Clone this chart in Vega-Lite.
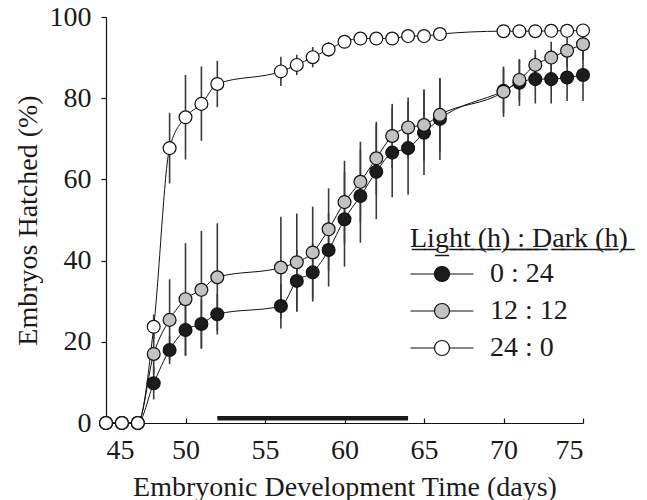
{
  "$schema": "https://vega.github.io/schema/vega-lite/v6.json",
  "width": 477,
  "height": 406,
  "autosize": {"type": "none"},
  "padding": {"left": 106, "top": 17, "right": 64, "bottom": 77},
  "background": "white",
  "config": {
    "view": {"stroke": null},
    "font": "Liberation Serif",
    "axis": {
      "labelFont": "Liberation Serif",
      "titleFont": "Liberation Serif",
      "labelFontSize": 28,
      "titleFontSize": 28,
      "titleFontWeight": "normal",
      "labelColor": "#1a1a1a",
      "titleColor": "#1a1a1a",
      "domainColor": "#111",
      "tickColor": "#111",
      "domainWidth": 1.2,
      "tickWidth": 1.2,
      "grid": false
    }
  },
  "data": {
    "values": [
      {"d": 45, "g": "0 : 24", "m": 0, "lo": 0, "hi": 0},
      {"d": 46, "g": "0 : 24", "m": 0, "lo": 0, "hi": 0},
      {"d": 47, "g": "0 : 24", "m": 0, "lo": 0, "hi": 0},
      {"d": 48, "g": "0 : 24", "m": 9.8, "lo": 5.8, "hi": 13.8},
      {"d": 49, "g": "0 : 24", "m": 18.0, "lo": 14.5, "hi": 21.5},
      {"d": 50, "g": "0 : 24", "m": 22.9, "lo": 16.5, "hi": 29.3},
      {"d": 51, "g": "0 : 24", "m": 24.4, "lo": 18.4, "hi": 30.4},
      {"d": 52, "g": "0 : 24", "m": 26.8, "lo": 21.8, "hi": 31.8},
      {"d": 56, "g": "0 : 24", "m": 28.8, "lo": 23.3, "hi": 34.3},
      {"d": 57, "g": "0 : 24", "m": 35.0, "lo": 27.4, "hi": 42.6},
      {"d": 58, "g": "0 : 24", "m": 37.1, "lo": 29.9, "hi": 44.3},
      {"d": 59, "g": "0 : 24", "m": 42.6, "lo": 33.6, "hi": 51.6},
      {"d": 60, "g": "0 : 24", "m": 50.2, "lo": 38.5, "hi": 61.9},
      {"d": 61, "g": "0 : 24", "m": 55.9, "lo": 44.4, "hi": 67.4},
      {"d": 62, "g": "0 : 24", "m": 61.9, "lo": 50.2, "hi": 73.6},
      {"d": 63, "g": "0 : 24", "m": 66.6, "lo": 55.6, "hi": 77.6},
      {"d": 64, "g": "0 : 24", "m": 67.7, "lo": 56.2, "hi": 79.2},
      {"d": 65, "g": "0 : 24", "m": 71.5, "lo": 61.1, "hi": 81.9},
      {"d": 66, "g": "0 : 24", "m": 74.9, "lo": 64.8, "hi": 85.0},
      {"d": 70, "g": "0 : 24", "m": 81.8, "lo": 76.3, "hi": 87.3},
      {"d": 71, "g": "0 : 24", "m": 83.8, "lo": 78.1, "hi": 89.5},
      {"d": 72, "g": "0 : 24", "m": 84.7, "lo": 78.7, "hi": 90.7},
      {"d": 73, "g": "0 : 24", "m": 84.7, "lo": 78.7, "hi": 90.7},
      {"d": 74, "g": "0 : 24", "m": 85.1, "lo": 79.3, "hi": 90.9},
      {"d": 75, "g": "0 : 24", "m": 85.7, "lo": 79.3, "hi": 92.1},
      {"d": 45, "g": "12 : 12", "m": 0, "lo": 0, "hi": 0},
      {"d": 46, "g": "12 : 12", "m": 0, "lo": 0, "hi": 0},
      {"d": 47, "g": "12 : 12", "m": 0, "lo": 0, "hi": 0},
      {"d": 48, "g": "12 : 12", "m": 17.0, "lo": 12.0, "hi": 22.0},
      {"d": 49, "g": "12 : 12", "m": 25.4, "lo": 15.4, "hi": 35.4},
      {"d": 50, "g": "12 : 12", "m": 30.5, "lo": 16.7, "hi": 44.3},
      {"d": 51, "g": "12 : 12", "m": 32.8, "lo": 18.3, "hi": 47.3},
      {"d": 52, "g": "12 : 12", "m": 35.9, "lo": 22.6, "hi": 49.2},
      {"d": 56, "g": "12 : 12", "m": 38.3, "lo": 25.8, "hi": 50.8},
      {"d": 57, "g": "12 : 12", "m": 39.6, "lo": 27.6, "hi": 51.6},
      {"d": 58, "g": "12 : 12", "m": 42.0, "lo": 30.7, "hi": 53.3},
      {"d": 59, "g": "12 : 12", "m": 47.7, "lo": 37.6, "hi": 57.8},
      {"d": 60, "g": "12 : 12", "m": 54.4, "lo": 44.2, "hi": 64.6},
      {"d": 61, "g": "12 : 12", "m": 59.4, "lo": 49.5, "hi": 69.3},
      {"d": 62, "g": "12 : 12", "m": 65.2, "lo": 56.2, "hi": 74.2},
      {"d": 63, "g": "12 : 12", "m": 70.7, "lo": 62.8, "hi": 78.6},
      {"d": 64, "g": "12 : 12", "m": 72.8, "lo": 65.4, "hi": 80.2},
      {"d": 65, "g": "12 : 12", "m": 73.4, "lo": 64.6, "hi": 82.2},
      {"d": 66, "g": "12 : 12", "m": 75.9, "lo": 66.9, "hi": 84.9},
      {"d": 70, "g": "12 : 12", "m": 81.6, "lo": 75.4, "hi": 87.8},
      {"d": 71, "g": "12 : 12", "m": 84.5, "lo": 79.4, "hi": 89.6},
      {"d": 72, "g": "12 : 12", "m": 88.2, "lo": 84.5, "hi": 91.9},
      {"d": 73, "g": "12 : 12", "m": 90.0, "lo": 86.1, "hi": 93.9},
      {"d": 74, "g": "12 : 12", "m": 91.7, "lo": 87.8, "hi": 95.6},
      {"d": 75, "g": "12 : 12", "m": 93.3, "lo": 89.4, "hi": 97.2},
      {"d": 45, "g": "24 : 0", "m": 0, "lo": 0, "hi": 0},
      {"d": 46, "g": "24 : 0", "m": 0, "lo": 0, "hi": 0},
      {"d": 47, "g": "24 : 0", "m": 0, "lo": 0, "hi": 0},
      {"d": 48, "g": "24 : 0", "m": 23.7, "lo": 20.7, "hi": 26.7},
      {"d": 49, "g": "24 : 0", "m": 67.7, "lo": 59.0, "hi": 76.4},
      {"d": 50, "g": "24 : 0", "m": 75.3, "lo": 64.9, "hi": 85.7},
      {"d": 51, "g": "24 : 0", "m": 78.6, "lo": 69.5, "hi": 87.8},
      {"d": 52, "g": "24 : 0", "m": 83.5, "lo": 77.8, "hi": 89.2},
      {"d": 56, "g": "24 : 0", "m": 86.6, "lo": 83.0, "hi": 90.2},
      {"d": 57, "g": "24 : 0", "m": 88.2, "lo": 85.7, "hi": 90.7},
      {"d": 58, "g": "24 : 0", "m": 90.1, "lo": 87.6, "hi": 92.6},
      {"d": 59, "g": "24 : 0", "m": 92.0, "lo": 90.2, "hi": 93.8},
      {"d": 60, "g": "24 : 0", "m": 93.9, "lo": 92.9, "hi": 94.9},
      {"d": 61, "g": "24 : 0", "m": 94.7, "lo": 94.2, "hi": 95.2},
      {"d": 62, "g": "24 : 0", "m": 94.7, "lo": 94.2, "hi": 95.2},
      {"d": 63, "g": "24 : 0", "m": 94.7, "lo": 94.2, "hi": 95.2},
      {"d": 64, "g": "24 : 0", "m": 95.3, "lo": 94.8, "hi": 95.8},
      {"d": 65, "g": "24 : 0", "m": 95.3, "lo": 94.8, "hi": 95.8},
      {"d": 66, "g": "24 : 0", "m": 95.8, "lo": 95.3, "hi": 96.3},
      {"d": 70, "g": "24 : 0", "m": 96.5, "lo": 96.0, "hi": 97.0},
      {"d": 71, "g": "24 : 0", "m": 96.5, "lo": 96.0, "hi": 97.0},
      {"d": 72, "g": "24 : 0", "m": 96.5, "lo": 96.0, "hi": 97.0},
      {"d": 73, "g": "24 : 0", "m": 96.6, "lo": 96.1, "hi": 97.1},
      {"d": 74, "g": "24 : 0", "m": 96.6, "lo": 96.1, "hi": 97.1},
      {"d": 75, "g": "24 : 0", "m": 96.7, "lo": 96.2, "hi": 97.2}
    ]
  },
  "layer": [
    {
      "data": {"values": [{"start": 52, "end": 64, "b": 0.6, "t": 1.75}]},
      "mark": {"type": "rect", "color": "#1a1a1a"},
      "encoding": {
        "x": {"field": "start", "type": "quantitative", "scale": {"domain": [45, 75], "nice": false, "zero": false}},
        "x2": {"field": "end"},
        "y": {"field": "b", "type": "quantitative"},
        "y2": {"field": "t"}
      }
    },
    {
      "mark": {"type": "rule", "color": "#3a3a3a", "strokeWidth": 1.6},
      "encoding": {
        "x": {"field": "d", "type": "quantitative"},
        "y": {"field": "lo", "type": "quantitative"},
        "y2": {"field": "hi"}
      }
    },
    {
      "mark": {"type": "line", "color": "#111", "strokeWidth": 1, "interpolate": "monotone"},
      "encoding": {
        "x": {"field": "d", "type": "quantitative"},
        "y": {"field": "m", "type": "quantitative"},
        "detail": {"field": "g"}
      }
    },
    {
      "mark": {"type": "point", "shape": "circle", "filled": true, "size": 165, "stroke": "#111", "strokeWidth": 1.2, "opacity": 1},
      "encoding": {
        "x": {
          "field": "d", "type": "quantitative",
          "scale": {"domain": [45, 75], "nice": false, "zero": false},
          "axis": {
            "title": "Embryonic Development Time (days)",
            "values": [45, 50, 55, 60, 65, 70, 75],
            "tickSize": -5,
            "labelPadding": 18,
            "titleBaseline": "alphabetic",
            "titleY": 72,
            "encode": {
              "labels": {"update": {"font": {"value": "Liberation Serif"}}},
              "title": {"update": {"font": {"value": "Liberation Serif"}}}
            }
          }
        },
        "y": {
          "field": "m", "type": "quantitative",
          "scale": {"domain": [0, 100], "nice": false},
          "axis": {
            "title": "Embryos Hatched (%)",
            "values": [0, 20, 40, 60, 80, 100],
            "tickSize": 5,
            "labelPadding": 10,
            "titleBaseline": "alphabetic",
            "titleX": -70,
            "encode": {
              "labels": {"update": {"font": {"value": "Liberation Serif"}}},
              "title": {"update": {"font": {"value": "Liberation Serif"}}}
            }
          }
        },
        "fill": {
          "field": "g", "type": "nominal",
          "scale": {"domain": ["0 : 24", "12 : 12", "24 : 0"], "range": ["#1c1c1c", "#c2c2c2", "#ffffff"]},
          "legend": {
            "title": "L\u0332i\u0332g\u0332h\u0332t\u0332 \u0332(\u0332h\u0332)\u0332 \u0332:\u0332 \u0332D\u0332a\u0332r\u0332k\u0332 \u0332(\u0332h\u0332)\u0332",
            "orient": "none",
            "legendX": 304,
            "legendY": 208,
            "titleFont": "Liberation Serif",
            "titleFontSize": 28,
            "titleFontWeight": "normal",
            "titleColor": "#1a1a1a",
            "titleLimit": 400,
            "titlePadding": 7,
            "labelFont": "Liberation Serif",
            "labelFontSize": 28,
            "labelColor": "#1a1a1a",
            "labelLimit": 300,
            "labelExpr": "datum.label == '0 : 24' ? '\u20070 : 24' : datum.label",
            "symbolType": "M-4.2,0L-1,0M1,0A1,1 0 1,0 -1,0A1,1 0 1,0 1,0ZM1,0L4.2,0",
            "symbolSize": 225,
            "symbolOffset": 18,
            "symbolStrokeColor": "#111",
            "symbolStrokeWidth": 1.2,
            "labelOffset": 34,
            "rowPadding": 9,
            "encode": {
              "labels": {"update": {"font": {"value": "Liberation Serif"}}},
              "title": {"update": {"font": {"value": "Liberation Serif"}}}
            }
          }
        }
      }
    }
  ]
}
